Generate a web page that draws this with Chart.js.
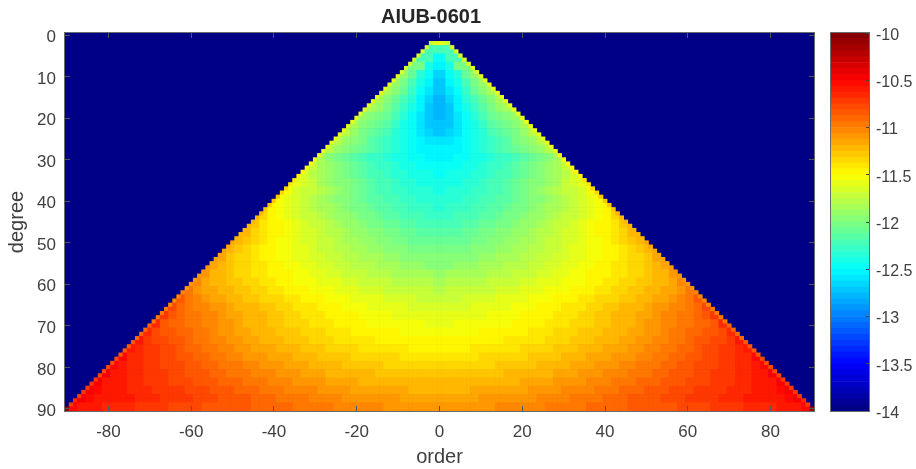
<!DOCTYPE html>
<html>
<head>
<meta charset="utf-8">
<title>AIUB-0601</title>
<script src="https://cdn.jsdelivr.net/npm/chart.js@4"></script>
<style>
    html, body { margin: 0; padding: 0; background: #fff; }
    #wrap { position: relative; width: 916px; height: 469px; }
    #wrap canvas { position: absolute; left: 0; top: 0; }
</style>
</head>
<body>
<div id="wrap">
    <canvas id="chartMapa" width="916" height="469"></canvas>
    <canvas id="chartBarra" width="916" height="469"></canvas>
</div>
<script>
const xTicks = [-80, -60, -40, -20, 0, 20, 40, 60, 80];
const yTicks = [0, 10, 20, 30, 40, 50, 60, 70, 80, 90];
const colorTicks = [-14, -13.5, -13, -12.5, -12, -11.5, -11, -10.5, -10];

// log10 value on the outer edge of the triangle (|order| == degree), degree 2..90
const edgeValues = [
    -11.75, -11.68, -11.66, -11.65, -11.64, -11.64, -11.63, -11.63,
    -11.62, -11.62, -11.62, -11.62, -11.62, -11.62, -11.62, -11.62, -11.62, -11.62,
    -11.62, -11.61, -11.61, -11.6, -11.6, -11.59, -11.58, -11.57, -11.57, -11.56,
    -11.55, -11.53, -11.51, -11.48, -11.45, -11.42, -11.39, -11.36, -11.33, -11.3,
    -11.28, -11.27, -11.26, -11.25, -11.24, -11.23, -11.22, -11.21, -11.2, -11.19,
    -11.18, -11.17, -11.16, -11.15, -11.14, -11.13, -11.12, -11.11, -11.1, -11.09,
    -11.08, -11.07, -11.05, -11.04, -11.02, -11.01, -10.99, -10.98, -10.96, -10.94,
    -10.92, -10.91, -10.89, -10.88, -10.86, -10.85, -10.83, -10.82, -10.8, -10.79,
    -10.78, -10.77, -10.76, -10.75, -10.74, -10.72, -10.71, -10.69, -10.65, -10.72, -10.1
];

// log10 value for even degrees 2,4..90; each row runs over order 0,2,4..degree-2
const degreeRows = [
    [-11.6],
    [-12.25],
    [-12.45, -12.2],
    [-12.55, -12.4, -12.05],
    [-12.65, -12.48, -12.33, -12.12, -11.92],
    [-12.7, -12.55, -12.38, -12.2, -12.03, -11.88],
    [-12.75, -12.62, -12.45, -12.28, -12.12, -11.98, -11.85],
    [-12.78, -12.68, -12.52, -12.36, -12.2, -12.07, -11.95, -11.83],
    [-12.78, -12.7, -12.56, -12.42, -12.28, -12.15, -12.03, -11.93, -11.82],
    [-12.78, -12.72, -12.58, -12.47, -12.35, -12.22, -12.12, -12.05, -11.98, -11.88],
    [-12.75, -12.7, -12.59, -12.49, -12.38, -12.27, -12.18, -12.1, -12.03, -11.95, -11.82],
    [-12.7, -12.67, -12.59, -12.5, -12.41, -12.32, -12.23, -12.15, -12.08, -12.01, -11.93, -11.8],
    [-12.62, -12.6, -12.56, -12.5, -12.43, -12.35, -12.27, -12.2, -12.13, -12.06, -11.99, -11.91, -11.79],
    [-12.56, -12.54, -12.51, -12.47, -12.42, -12.36, -12.3, -12.24, -12.17, -12.1, -12.03, -11.96, -11.88, -11.78],
    [-12.52, -12.51, -12.49, -12.46, -12.43, -12.39, -12.35, -12.31, -12.27, -12.22, -12.17, -12.11, -12.05, -11.95, -11.82],
    [-12.47, -12.46, -12.44, -12.42, -12.39, -12.35, -12.31, -12.27, -12.22, -12.17, -12.12, -12.06, -12.0, -11.93, -11.85, -11.74],
    [-12.44, -12.43, -12.41, -12.39, -12.36, -12.32, -12.28, -12.24, -12.19, -12.14, -12.09, -12.03, -11.97, -11.91, -11.84, -11.76, -11.66],
    [-12.41, -12.4, -12.38, -12.36, -12.33, -12.29, -12.25, -12.21, -12.16, -12.11, -12.06, -12.0, -11.94, -11.88, -11.82, -11.75, -11.68, -11.58],
    [-12.38, -12.37, -12.35, -12.33, -12.3, -12.27, -12.23, -12.19, -12.14, -12.09, -12.04, -11.99, -11.93, -11.87, -11.81, -11.75, -11.69, -11.63, -11.54],
    [-12.36, -12.35, -12.33, -12.3, -12.28, -12.25, -12.22, -12.18, -12.13, -12.09, -12.04, -11.99, -11.94, -11.88, -11.83, -11.78, -11.72, -11.67, -11.61, -11.52],
    [-12.32, -12.31, -12.29, -12.27, -12.24, -12.21, -12.18, -12.14, -12.1, -12.06, -12.01, -11.97, -11.92, -11.87, -11.82, -11.76, -11.71, -11.65, -11.6, -11.54, -11.44],
    [-12.28, -12.27, -12.25, -12.23, -12.2, -12.17, -12.14, -12.1, -12.06, -12.02, -11.98, -11.93, -11.89, -11.84, -11.79, -11.74, -11.69, -11.63, -11.58, -11.52, -11.46, -11.36],
    [-12.22, -12.21, -12.19, -12.17, -12.14, -12.11, -12.08, -12.04, -12.01, -11.97, -11.93, -11.89, -11.85, -11.8, -11.75, -11.7, -11.65, -11.6, -11.55, -11.5, -11.44, -11.38, -11.28],
    [-12.17, -12.16, -12.14, -12.12, -12.09, -12.06, -12.03, -12.0, -11.96, -11.93, -11.89, -11.85, -11.81, -11.77, -11.72, -11.68, -11.63, -11.58, -11.54, -11.49, -11.44, -11.39, -11.33, -11.23],
    [-12.11, -12.1, -12.09, -12.07, -12.05, -12.02, -11.99, -11.96, -11.93, -11.9, -11.87, -11.83, -11.79, -11.75, -11.71, -11.67, -11.63, -11.59, -11.55, -11.51, -11.47, -11.42, -11.37, -11.3, -11.2],
    [-12.05, -12.04, -12.03, -12.01, -11.99, -11.97, -11.94, -11.91, -11.88, -11.85, -11.82, -11.79, -11.76, -11.72, -11.69, -11.65, -11.62, -11.58, -11.55, -11.52, -11.48, -11.44, -11.4, -11.35, -11.29, -11.2],
    [-12.0, -11.99, -11.98, -11.96, -11.94, -11.92, -11.89, -11.87, -11.84, -11.82, -11.79, -11.76, -11.73, -11.7, -11.66, -11.63, -11.6, -11.57, -11.54, -11.51, -11.48, -11.44, -11.41, -11.37, -11.33, -11.27, -11.17],
    [-11.95, -11.94, -11.93, -11.91, -11.89, -11.87, -11.85, -11.83, -11.81, -11.78, -11.76, -11.73, -11.7, -11.67, -11.64, -11.61, -11.58, -11.55, -11.52, -11.49, -11.46, -11.43, -11.4, -11.37, -11.33, -11.29, -11.23, -11.13],
    [-11.88, -11.87, -11.86, -11.85, -11.83, -11.82, -11.8, -11.78, -11.76, -11.74, -11.72, -11.69, -11.67, -11.64, -11.61, -11.59, -11.56, -11.53, -11.5, -11.48, -11.45, -11.42, -11.39, -11.36, -11.33, -11.29, -11.25, -11.19, -11.08],
    [-11.82, -11.81, -11.8, -11.79, -11.78, -11.76, -11.74, -11.73, -11.71, -11.69, -11.67, -11.65, -11.62, -11.6, -11.58, -11.55, -11.53, -11.51, -11.48, -11.46, -11.43, -11.4, -11.37, -11.34, -11.31, -11.28, -11.25, -11.21, -11.15, -11.02],
    [-11.76, -11.75, -11.74, -11.73, -11.72, -11.7, -11.69, -11.67, -11.66, -11.64, -11.62, -11.6, -11.58, -11.56, -11.54, -11.52, -11.49, -11.47, -11.45, -11.42, -11.4, -11.37, -11.34, -11.31, -11.28, -11.25, -11.22, -11.18, -11.14, -11.08, -10.96],
    [-11.7, -11.7, -11.69, -11.68, -11.67, -11.65, -11.64, -11.62, -11.61, -11.59, -11.57, -11.55, -11.53, -11.51, -11.49, -11.47, -11.45, -11.42, -11.4, -11.37, -11.35, -11.32, -11.29, -11.26, -11.23, -11.2, -11.17, -11.13, -11.09, -11.05, -10.99, -10.87],
    [-11.65, -11.65, -11.64, -11.63, -11.62, -11.61, -11.6, -11.58, -11.57, -11.55, -11.53, -11.51, -11.49, -11.47, -11.45, -11.43, -11.41, -11.38, -11.36, -11.33, -11.31, -11.28, -11.25, -11.22, -11.19, -11.16, -11.12, -11.09, -11.05, -11.01, -10.96, -10.9, -10.78],
    [-11.61, -11.61, -11.6, -11.59, -11.58, -11.57, -11.56, -11.55, -11.53, -11.52, -11.5, -11.48, -11.46, -11.44, -11.42, -11.4, -11.38, -11.35, -11.33, -11.31, -11.28, -11.25, -11.22, -11.19, -11.16, -11.13, -11.09, -11.06, -11.02, -10.98, -10.94, -10.89, -10.82, -10.72],
    [-11.57, -11.57, -11.56, -11.55, -11.55, -11.54, -11.53, -11.52, -11.51, -11.5, -11.48, -11.47, -11.45, -11.43, -11.41, -11.38, -11.36, -11.34, -11.32, -11.3, -11.28, -11.25, -11.22, -11.19, -11.16, -11.12, -11.09, -11.06, -11.03, -10.99, -10.95, -10.92, -10.88, -10.82, -10.68],
    [-11.53, -11.53, -11.52, -11.52, -11.51, -11.5, -11.49, -11.48, -11.47, -11.46, -11.44, -11.43, -11.41, -11.39, -11.37, -11.35, -11.33, -11.31, -11.29, -11.27, -11.24, -11.22, -11.19, -11.16, -11.13, -11.1, -11.07, -11.04, -11.0, -10.97, -10.93, -10.9, -10.86, -10.82, -10.76, -10.64],
    [-11.5, -11.49, -11.49, -11.48, -11.47, -11.46, -11.45, -11.44, -11.43, -11.42, -11.41, -11.39, -11.38, -11.36, -11.34, -11.32, -11.3, -11.28, -11.26, -11.24, -11.21, -11.19, -11.16, -11.13, -11.1, -11.07, -11.04, -11.01, -10.98, -10.94, -10.91, -10.87, -10.84, -10.8, -10.76, -10.7, -10.6],
    [-11.45, -11.45, -11.44, -11.44, -11.43, -11.42, -11.41, -11.4, -11.39, -11.38, -11.37, -11.35, -11.34, -11.32, -11.3, -11.28, -11.26, -11.24, -11.22, -11.2, -11.18, -11.15, -11.13, -11.1, -11.07, -11.04, -11.01, -10.98, -10.95, -10.92, -10.88, -10.85, -10.81, -10.78, -10.74, -10.7, -10.65, -10.57],
    [-11.4, -11.4, -11.39, -11.39, -11.38, -11.37, -11.36, -11.36, -11.35, -11.34, -11.32, -11.31, -11.3, -11.28, -11.26, -11.24, -11.22, -11.2, -11.18, -11.16, -11.14, -11.12, -11.09, -11.07, -11.04, -11.01, -10.98, -10.95, -10.92, -10.89, -10.86, -10.83, -10.8, -10.77, -10.74, -10.71, -10.67, -10.63, -10.54],
    [-11.35, -11.35, -11.34, -11.34, -11.33, -11.32, -11.32, -11.31, -11.3, -11.29, -11.28, -11.27, -11.25, -11.24, -11.22, -11.2, -11.18, -11.16, -11.14, -11.12, -11.1, -11.08, -11.05, -11.03, -11.0, -10.98, -10.95, -10.92, -10.89, -10.86, -10.84, -10.81, -10.79, -10.76, -10.73, -10.7, -10.67, -10.64, -10.6, -10.52],
    [-11.3, -11.3, -11.29, -11.29, -11.28, -11.27, -11.27, -11.26, -11.25, -11.24, -11.23, -11.21, -11.2, -11.19, -11.17, -11.15, -11.13, -11.12, -11.1, -11.08, -11.06, -11.03, -11.01, -10.99, -10.96, -10.94, -10.91, -10.89, -10.86, -10.84, -10.82, -10.79, -10.77, -10.74, -10.72, -10.69, -10.66, -10.64, -10.61, -10.58, -10.5],
    [-11.25, -11.25, -11.24, -11.24, -11.23, -11.22, -11.22, -11.21, -11.2, -11.19, -11.18, -11.17, -11.15, -11.14, -11.12, -11.11, -11.09, -11.07, -11.05, -11.04, -11.02, -10.99, -10.97, -10.95, -10.93, -10.91, -10.89, -10.87, -10.85, -10.83, -10.81, -10.78, -10.76, -10.74, -10.71, -10.69, -10.66, -10.64, -10.61, -10.59, -10.57, -10.5],
    [-11.2, -11.2, -11.19, -11.19, -11.18, -11.17, -11.17, -11.16, -11.15, -11.14, -11.13, -11.12, -11.11, -11.09, -11.08, -11.06, -11.04, -11.03, -11.01, -10.99, -10.97, -10.95, -10.93, -10.91, -10.89, -10.87, -10.85, -10.83, -10.81, -10.79, -10.77, -10.75, -10.73, -10.71, -10.69, -10.67, -10.65, -10.63, -10.61, -10.59, -10.57, -10.55, -10.5],
    [-11.15, -11.15, -11.14, -11.14, -11.13, -11.12, -11.12, -11.11, -11.1, -11.09, -11.08, -11.07, -11.06, -11.05, -11.03, -11.02, -11.0, -10.99, -10.97, -10.95, -10.93, -10.91, -10.89, -10.87, -10.85, -10.83, -10.82, -10.8, -10.78, -10.76, -10.75, -10.73, -10.71, -10.69, -10.68, -10.66, -10.64, -10.62, -10.61, -10.6, -10.58, -10.57, -10.55, -10.5],
    [-11.1, -11.1, -11.09, -11.09, -11.08, -11.07, -11.07, -11.06, -11.05, -11.04, -11.03, -11.02, -11.01, -11.0, -10.98, -10.97, -10.96, -10.95, -10.93, -10.92, -10.91, -10.9, -10.88, -10.87, -10.86, -10.85, -10.84, -10.83, -10.82, -10.81, -10.8, -10.78, -10.77, -10.75, -10.74, -10.72, -10.7, -10.68, -10.67, -10.65, -10.63, -10.61, -10.59, -10.57, -10.52]
];

const textColor = "#404040";
const frameColor = "#6b6b6b";
const colorMin = -14;
const colorMax = -10;
const colorLevels = 64;

// jet colormap in 64 steps, same as the original figure
function jetColor(v) {
    let i = Math.floor((v - colorMin) / (colorMax - colorMin) * colorLevels);
    i = Math.max(0, Math.min(colorLevels - 1, i));
    const t = (i + 0.5) / colorLevels;
    const canal = (c) => Math.round(255 * Math.max(0, Math.min(1, 1.5 - Math.abs(4 * t - c))));
    return "rgb(" + canal(3) + "," + canal(2) + "," + canal(1) + ")";
}

function valorCelda(grado, orden) {
    const m = Math.abs(orden);
    if (m === grado) return edgeValues[grado - 2];
    const fila = degreeRows[Math.ceil(grado / 2) - 1];
    return fila[Math.min(Math.floor(m / 2), fila.length - 1)];
}

const celdas = [];
for (let n = 2; n <= 90; n++) {
    for (let m = -n; m <= n; m++) {
        celdas.push({ x: m, y: n, v: valorCelda(n, m) });
    }
}

// dark blue background and grey box round the plot area
const marcoPlugin = {
    id: "marco",
    beforeDatasetsDraw(chart, args, opts) {
        if (!opts.fondo) return;
        const a = chart.chartArea;
        chart.ctx.save();
        chart.ctx.fillStyle = opts.fondo;
        chart.ctx.fillRect(a.left, a.top, a.width, a.height);
        chart.ctx.restore();
    },
    afterDraw(chart) {
        const a = chart.chartArea;
        const ctx = chart.ctx;
        ctx.save();
        ctx.strokeStyle = frameColor;
        ctx.lineWidth = 1;
        ctx.strokeRect(a.left - 0.5, a.top - 0.5, a.width + 1, a.height + 1);
        ctx.restore();
    }
};

function ejeMarcas(lista, extra) {
    return Object.assign({
        type: "linear",
        border: { display: false },
        grid: { drawOnChartArea: false, drawTicks: true, tickLength: -5, tickColor: "#555", z: 1 },
        afterBuildTicks: (s) => { s.ticks = lista.map((v) => ({ value: v })); }
    }, extra);
}

const familia = "'Liberation Sans', Arial, sans-serif";
const tickFont = { family: familia, size: 17 };
// the short line height with the empty first line drops the y labels a little below their tick
const tickFontY = { family: familia, size: 17, lineHeight: "5px" };
const barFont = { family: familia, size: 16, lineHeight: "5px" };
const labelFont = { family: familia, size: 20 };

new Chart(document.getElementById("chartMapa"), {
    type: "scatter",
    data: {
        datasets: [{
            data: celdas,
            pointStyle: "rect",
            pointRadius: 3.4,
            pointBorderWidth: 0,
            pointBackgroundColor: (c) => jetColor(c.raw.v)
        }]
    },
    plugins: [marcoPlugin],
    options: {
        responsive: false,
        animation: false,
        events: [],
        layout: { padding: { right: 54 } },
        plugins: {
            marco: { fondo: "#000086" },
            legend: { display: false },
            tooltip: { enabled: false },
            title: {
                display: true,
                text: "AIUB-0601",
                color: "#262626",
                font: { family: familia, size: 20, weight: "bold" },
                padding: { top: 5, bottom: 4 }
            }
        },
        scales: {
            x: ejeMarcas(xTicks, {
                position: "bottom",
                min: -90.5,
                max: 90.5,
                afterFit: (s) => { s.height = 58; },
                ticks: { color: textColor, font: tickFont, padding: 16, maxRotation: 0, autoSkip: false, callback: (v) => String(v) },
                title: { display: true, text: "order", color: textColor, font: labelFont, padding: { top: 0, bottom: 0 } }
            }),
            xArriba: ejeMarcas(xTicks, {
                position: "top",
                min: -90.5,
                max: 90.5,
                afterFit: (s) => { s.height = 0; },
                ticks: { display: false }
            }),
            y: ejeMarcas(yTicks, {
                position: "left",
                reverse: true,
                min: -0.5,
                max: 90.5,
                afterFit: (s) => { s.width = 65; },
                ticks: { color: textColor, font: tickFontY, padding: 14, autoSkip: false, callback: (v) => ["", String(v)] },
                title: { display: true, text: "degree", color: textColor, font: labelFont, padding: { top: 5, bottom: 0 } }
            }),
            yDerecha: ejeMarcas(yTicks, {
                position: "right",
                reverse: true,
                min: -0.5,
                max: 90.5,
                afterFit: (s) => { s.width = 48; },
                ticks: { display: false }
            })
        }
    }
});

// colour bar: one floating bar per colormap level
const nivelesBarra = [];
for (let i = 0; i < colorLevels; i++) {
    const lo = colorMin + i * (colorMax - colorMin) / colorLevels;
    nivelesBarra.push([lo, lo + (colorMax - colorMin) / colorLevels]);
}

new Chart(document.getElementById("chartBarra"), {
    type: "bar",
    data: {
        labels: [""],
        datasets: nivelesBarra.map((par) => ({
            data: [par],
            backgroundColor: jetColor((par[0] + par[1]) / 2),
            borderWidth: 0,
            barPercentage: 1,
            categoryPercentage: 1,
            grouped: false
        }))
    },
    plugins: [marcoPlugin],
    options: {
        responsive: false,
        animation: false,
        events: [],
        layout: { padding: { left: 831, top: 33, bottom: 58, right: 0 } },
        plugins: { legend: { display: false }, tooltip: { enabled: false } },
        scales: {
            x: { display: false },
            y: {
                type: "linear",
                position: "right",
                min: colorMin,
                max: colorMax,
                border: { display: false },
                grid: { drawOnChartArea: false, drawTicks: true, tickLength: -3, tickColor: "#444", z: 1 },
                afterBuildTicks: (s) => { s.ticks = colorTicks.map((v) => ({ value: v })); },
                afterFit: (s) => { s.width = 47; },
                ticks: { color: textColor, font: barFont, padding: 10, autoSkip: false, callback: (v) => ["", String(v)] }
            }
        }
    }
});
</script>
</body>
</html>
